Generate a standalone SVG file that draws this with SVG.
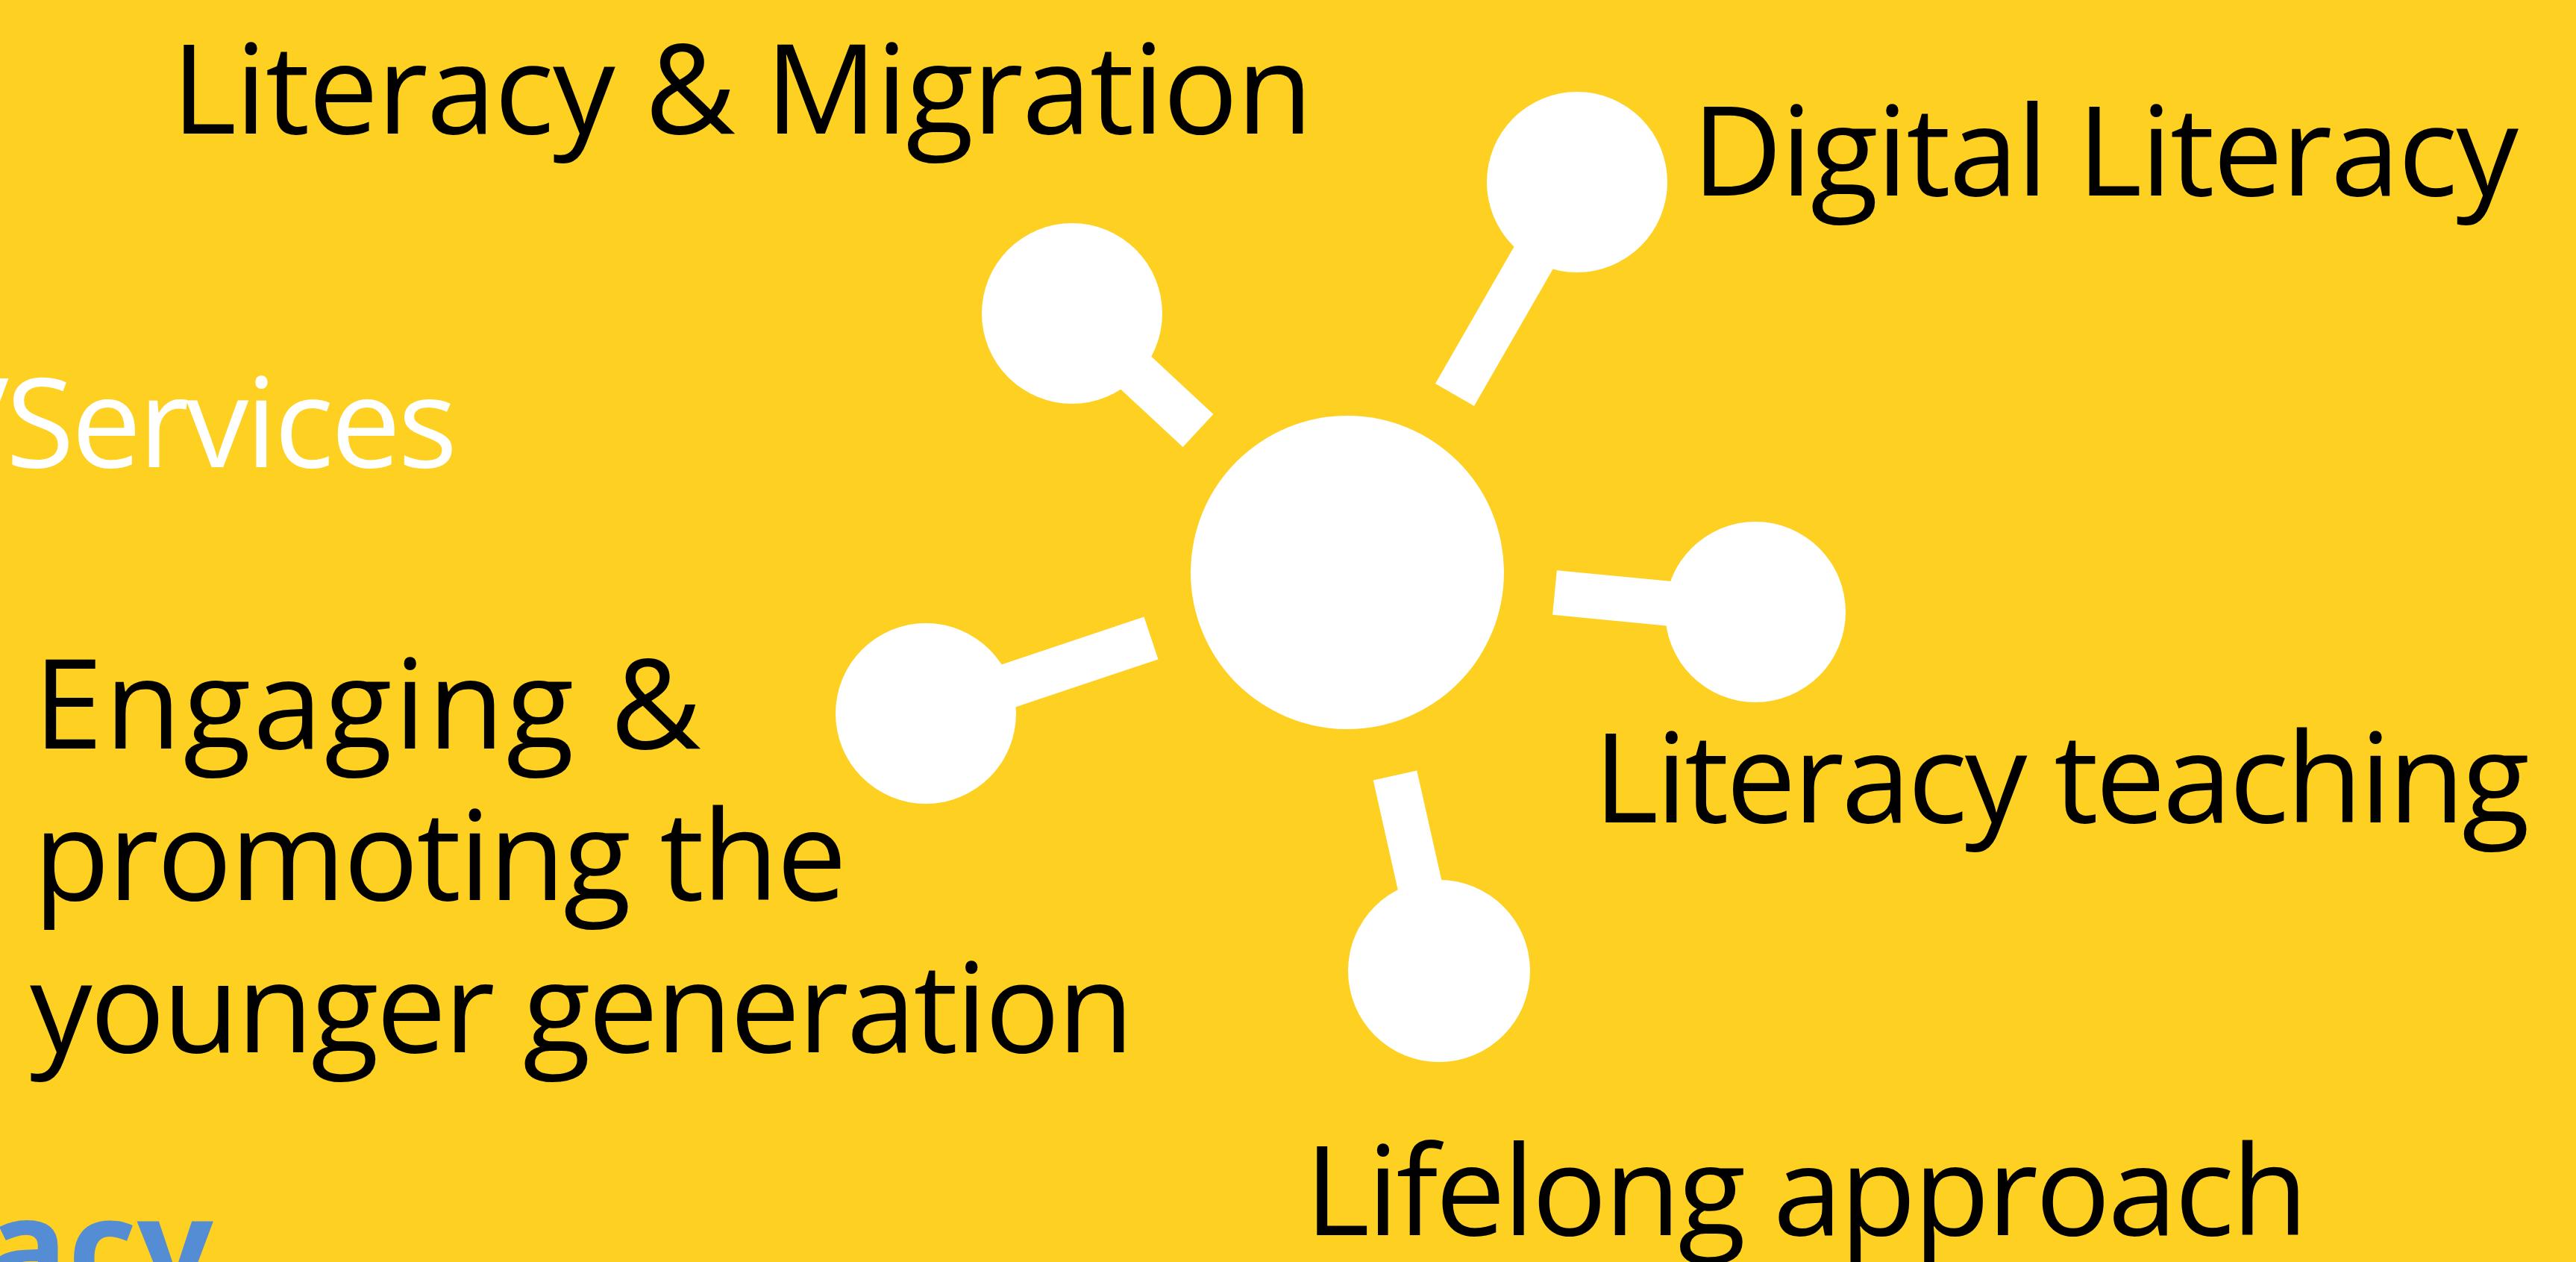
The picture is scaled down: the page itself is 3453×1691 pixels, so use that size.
<svg xmlns="http://www.w3.org/2000/svg" width="3453" height="1691" viewBox="0 0 3453 1691">
<style>
.bg{fill:#FDD022}
.node{fill:#FFFFFF}
.stem{stroke:#FFFFFF;stroke-width:60;stroke-linecap:butt;fill:none}
.lbl{font-family:"Open Sans","Noto Sans","DejaVu Sans",sans-serif;font-size:167px;fill:#000000}
.wlbl{font-family:"Open Sans","Noto Sans","DejaVu Sans",sans-serif;font-size:167px;fill:#FFFFFF}
.blue{font-family:"Open Sans","Noto Sans","DejaVu Sans",sans-serif;font-size:180px;font-weight:bold;fill:#548DD4}
</style>
<rect class="bg" x="0" y="0" width="3453" height="1691"/>
<g id="connectors">
<line class="stem" x1="1437" y1="420" x2="1606" y2="577"/>
<line class="stem" x1="2114" y1="244" x2="1950" y2="529"/>
<line class="stem" x1="2353" y1="820" x2="2084" y2="794"/>
<line class="stem" x1="1241" y1="956" x2="1543" y2="855"/>
<line class="stem" x1="1929" y1="1301" x2="1870" y2="1039"/>
</g>
<g id="hub"><circle class="node" cx="1806" cy="767" r="210"/></g>
<g id="node-migration"><circle class="node" cx="1437" cy="420" r="121"/></g>
<g id="node-digital"><circle class="node" cx="2114" cy="244" r="121"/></g>
<g id="node-teaching"><circle class="node" cx="2353" cy="820" r="121"/></g>
<g id="node-engaging"><circle class="node" cx="1241" cy="956" r="121"/></g>
<g id="node-lifelong"><circle class="node" cx="1929" cy="1301" r="122"/></g>
<g id="label-migration"><text class="lbl" x="230" y="179" textLength="1530">Literacy &amp; Migration</text></g>
<g id="label-digital"><text class="lbl" x="2268" y="262" textLength="1108">Digital Literacy</text></g>
<g id="label-teaching"><text class="lbl" x="2136" y="1102" textLength="1255">Literacy teaching</text></g>
<g id="label-lifelong"><text class="lbl" x="1749" y="1655" textLength="1345">Lifelong approach</text></g>
<g id="label-engaging">
<text class="lbl"><tspan x="45" y="1003" textLength="895">Engaging &amp;</tspan><tspan x="45" y="1206" textLength="1090">promoting the</tspan><tspan x="40" y="1410" textLength="1480">younger generation</tspan></text>
</g>
<g id="label-services"><text class="wlbl" y="626"><tspan x="-48">/</tspan><tspan x="8" textLength="605">Services</tspan></text></g>
<g id="label-acy"><text class="blue" x="286" y="1735" text-anchor="end">acy</text></g>
</svg>
